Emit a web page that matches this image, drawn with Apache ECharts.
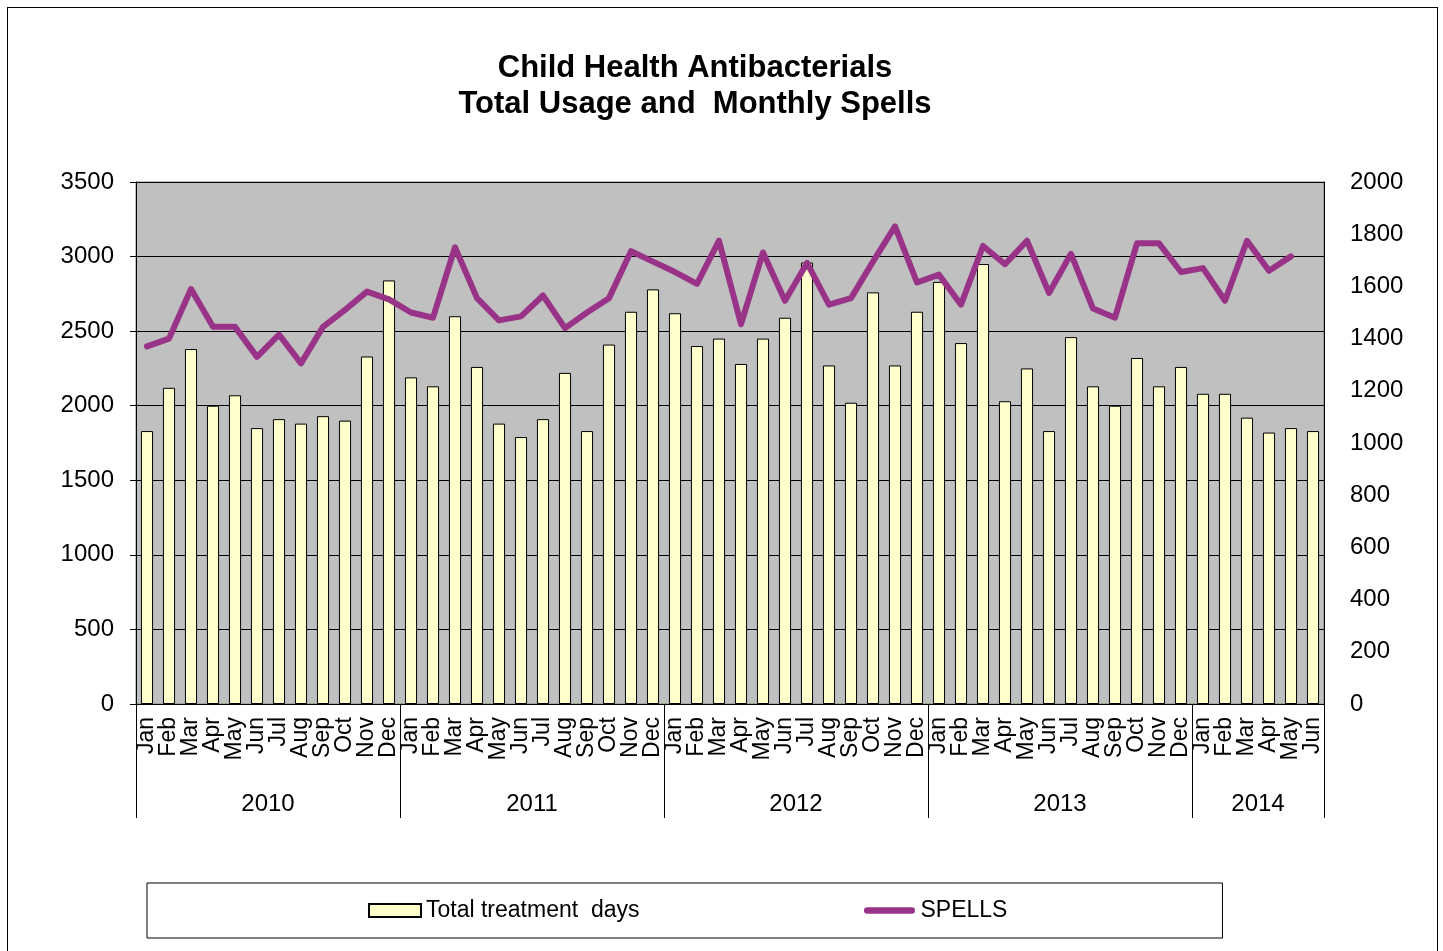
<!DOCTYPE html>
<html>
<head>
<meta charset="utf-8">
<script src="https://cdn.jsdelivr.net/npm/echarts@6/dist/echarts.min.js"></script>
<style>
  html, body { margin: 0; padding: 0; background: #fff; overflow: hidden; }
  #chart { position: absolute; left: 0; top: 0; width: 1443px; height: 951px; }
  #frame { position: absolute; left: 7px; top: 7px; width: 1431px; height: 980px;
           border: 1px solid #000; box-sizing: border-box; pointer-events: none; }
</style>
</head>
<body>
<div id="chart"></div>
<div id="frame"></div>
<script>
// ---- data ----
const monthNames = ['Jan','Feb','Mar','Apr','May','Jun','Jul','Aug','Sep','Oct','Nov','Dec'];
const years = ['2010','2011','2012','2013','2014'];
const monthsPerYear = [12, 12, 12, 12, 6];

const totalTreatmentDays = [
  1830, 2120, 2380, 2000, 2070, 1850, 1910, 1880, 1930, 1900, 2330, 2840,
  2190, 2130, 2600, 2260, 1880, 1790, 1910, 2220, 1830, 2410, 2630, 2780,
  2620, 2400, 2450, 2280, 2450, 2590, 2960, 2270, 2020, 2760, 2270, 2630,
  2830, 2420, 2950, 2030, 2250, 1830, 2460, 2130, 2000, 2320, 2130, 2260,
  2080, 2080, 1920, 1820, 1850, 1830
];
const spells = [
  1370, 1400, 1590, 1445, 1445, 1330, 1415, 1305, 1445, 1510, 1580, 1550,
  1500, 1480, 1750, 1555, 1470, 1485, 1565, 1440, 1500, 1555, 1735, 1695,
  1655, 1610, 1775, 1455, 1730, 1545, 1690, 1530, 1555, 1695, 1830, 1615,
  1645, 1530, 1755, 1685, 1775, 1575, 1725, 1515, 1480, 1765, 1765, 1655,
  1670, 1545, 1775, 1660, 1715, null
];
const leftTicks = [0, 500, 1000, 1500, 2000, 2500, 3000, 3500];
const rightTicks = [0, 200, 400, 600, 800, 1000, 1200, 1400, 1600, 1800, 2000];

// ---- derived ----
const categories = [];
const yearBounds = [0];
const yearCenters = [];
years.forEach((y, i) => {
  const start = yearBounds[yearBounds.length - 1];
  for (let m = 0; m < monthsPerYear[i]; m++) categories.push(monthNames[m]);
  yearCenters.push(start + monthsPerYear[i] / 2);
  yearBounds.push(start + monthsPerYear[i]);
});
const total = categories.length;

const FONT = '"Liberation Sans", Arial, sans-serif';
const chart = echarts.init(document.getElementById('chart'), null, { renderer: 'canvas' });

const lineIcon = 'path://M4,3 L51,3 A3.5,3.5 0 0 1 51,10 L4,10 A3.5,3.5 0 0 1 4,3 Z M0,0 M55,13';

chart.setOption({
  animation: false,
  backgroundColor: '#ffffff',
  textStyle: { fontFamily: FONT, color: '#000' },
  title: {
    text: 'Child Health Antibacterials\nTotal Usage and  Monthly Spells',
    left: 690,
    top: 45,
    textAlign: 'center',
    textStyle: { fontFamily: FONT, fontSize: 31, fontWeight: 'bold', lineHeight: 36, color: '#000' }
  },
  legend: {
    left: 147,
    top: 883,
    padding: [16, 215, 16, 221],
    borderColor: '#000',
    borderWidth: 1,
    itemGap: 224,
    itemWidth: 52,
    itemHeight: 13,
    textStyle: { fontFamily: FONT, fontSize: 23, color: '#000' },
    data: [
      { name: 'Total treatment  days', icon: 'rect' },
      { name: 'SPELLS', icon: lineIcon, itemStyle: { color: '#993388', borderWidth: 0 } }
    ]
  },
  grid: {
    left: 136, right: 119, top: 182, bottom: 247,
    show: true,
    backgroundColor: '#C0C0C0',
    borderColor: '#808080',
    borderWidth: 1,
    containLabel: false
  },
  xAxis: [
    {
      type: 'category',
      data: categories,
      position: 'bottom',
      boundaryGap: true,
      axisLine: { show: true, lineStyle: { color: '#000', width: 1 } },
      axisTick: { show: false },
      axisLabel: {
        interval: 0, rotate: 90, margin: 13,
        fontFamily: FONT, fontSize: 23, color: '#000'
      },
      splitLine: { show: false }
    },
    {
      type: 'value',
      min: 0, max: total,
      position: 'bottom',
      axisLine: { show: false },
      axisTick: {
        show: true, inside: false, length: 114,
        customValues: yearBounds,
        lineStyle: { color: '#000', width: 1 }
      },
      axisLabel: {
        show: true, margin: 88,
        customValues: yearCenters,
        fontFamily: FONT, fontSize: 24, color: '#000',
        formatter: (v) => {
          const i = yearCenters.indexOf(v);
          return i >= 0 ? years[i] : '';
        }
      },
      splitLine: { show: false }
    }
  ],
  yAxis: [
    {
      type: 'value',
      min: leftTicks[0], max: leftTicks[leftTicks.length - 1], interval: leftTicks[1] - leftTicks[0],
      position: 'left',
      axisLine: { show: true, lineStyle: { color: '#000', width: 1 } },
      axisTick: { show: true, length: 6, lineStyle: { color: '#000' } },
      axisLabel: { margin: 22, fontFamily: FONT, fontSize: 24, color: '#000', formatter: (v) => String(v) },
      splitLine: { show: true, lineStyle: { color: '#000', width: 1, type: 'solid' } }
    },
    {
      type: 'value',
      min: rightTicks[0], max: rightTicks[rightTicks.length - 1], interval: rightTicks[1] - rightTicks[0],
      position: 'right',
      axisLine: { show: true, lineStyle: { color: '#000', width: 1 } },
      axisTick: { show: false },
      axisLabel: { margin: 26, fontFamily: FONT, fontSize: 24, color: '#000', formatter: (v) => String(v) },
      splitLine: { show: false }
    }
  ],
  series: [
    {
      name: 'Total treatment  days',
      type: 'bar',
      xAxisIndex: 0,
      yAxisIndex: 0,
      data: totalTreatmentDays,
      barWidth: '55%',
      itemStyle: { color: '#FFFFCC', borderColor: '#000', borderWidth: 1 }
    },
    {
      name: 'SPELLS',
      type: 'line',
      xAxisIndex: 0,
      yAxisIndex: 1,
      data: spells,
      symbol: 'none',
      showSymbol: false,
      connectNulls: false,
      lineStyle: { color: '#993388', width: 6, cap: 'round', join: 'round' },
      itemStyle: { color: '#993388' },
      z: 5
    }
  ]
});
</script>
</body>
</html>
